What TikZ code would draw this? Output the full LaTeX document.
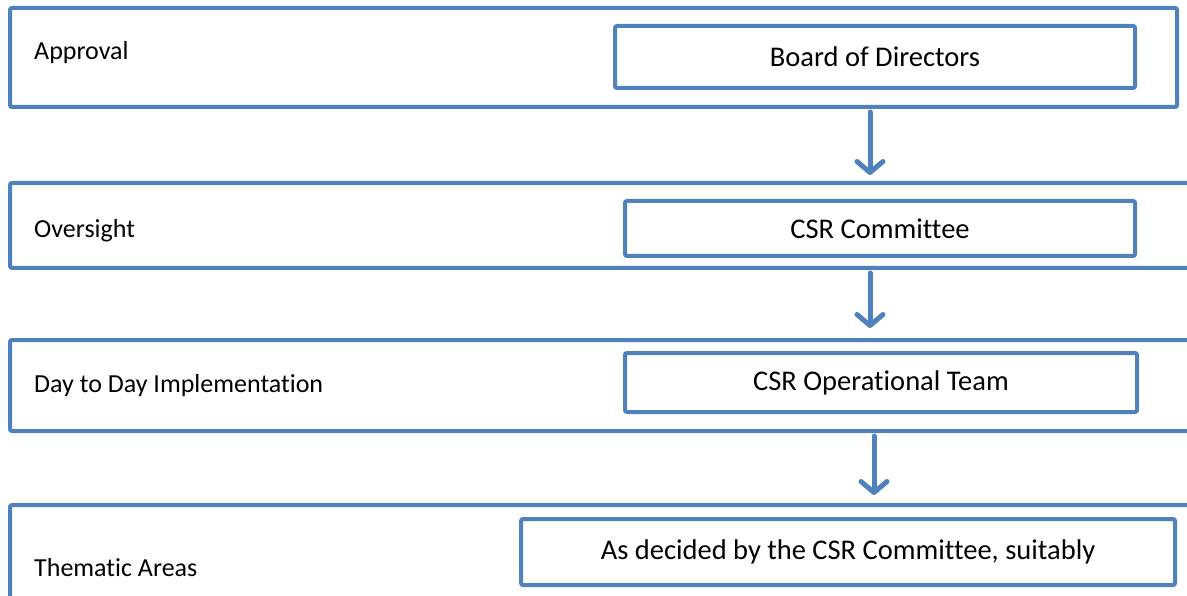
\documentclass[tikz,border=0pt]{standalone}
\usepackage{fontspec}
\setmainfont{Carlito}[Ligatures=NoCommon]
\usepackage{tikz}
\usetikzlibrary{arrows.meta,positioning}
\definecolor{officeblue}{RGB}{79,129,189}

\begin{document}
\begin{tikzpicture}[x=1pt,y=-1pt,
  band/.style={draw=officeblue,line width=4pt,rounded corners=2pt,inner sep=0pt},
  inbox/.style={draw=officeblue,line width=4pt,rounded corners=2pt,fill=white,
    font=\fontsize{28.5}{32}\selectfont,inner sep=0pt},
  tier/.style={anchor=west,font=\fontsize{26}{30}\selectfont,inner sep=0pt},
  flow/.style={-{Straight Barb[length=11pt,width=26pt,line cap=round,line join=round]},
    line width=5pt,officeblue,line cap=round},
]
  \useasboundingbox (0,0) rectangle (1187,596);
  \clip (0,0) rectangle (1187,596);

  % the four tiers
  \node[band,minimum width=1167pt,minimum height=99pt] (approval) at (593.5,57.5) {};
  \node[band,minimum width=1190pt,minimum height=85pt] (oversight) at (605,225.5) {};
  \node[band,minimum width=1190pt,minimum height=91pt] (daily) at (605,385.5) {};
  \node[band,minimum width=1190pt,minimum height=115pt] (thematic) at (605,562.5) {};

  \node[tier] (lblA) at (34,53) {Approval};
  \node[tier] (lblB) at (34,231) {Oversight};
  \node[tier] (lblC) at (34,386) {Day to Day Implementation};
  \node[tier] (lblD) at (34,568) {Thematic Areas};

  % who does it
  \node[inbox,minimum width=520pt,minimum height=62pt] (board) at (875,57) {Board of Directors};
  \node[inbox,minimum width=510pt,minimum height=55pt] (csr) at (880,228.5) {CSR Committee};
  \node[inbox,minimum width=512pt,minimum height=59pt] (ops) at (881,382.5) {CSR Operational Team};
  \node[inbox,minimum width=654pt,minimum height=66pt] (areas) at (848,552) {As decided by the CSR Committee, suitably};

  \draw[flow] ([xshift=-5pt,yshift=-3pt]board.south |- approval.south) -- ([xshift=-5pt,yshift=6pt]board.south |- oversight.north);
  \draw[flow] ([xshift=-10pt,yshift=-3pt]csr.south |- oversight.south) -- ([xshift=-10pt,yshift=10pt]csr.south |- daily.north);
  \draw[flow] ([xshift=-7pt,yshift=-3pt]ops.south |- daily.south) -- ([xshift=-7pt,yshift=8pt]ops.south |- thematic.north);
\end{tikzpicture}
\end{document}
